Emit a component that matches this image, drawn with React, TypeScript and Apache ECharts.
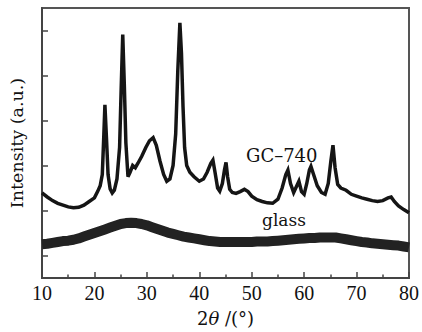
import React, { useEffect, useRef } from "react";
import * as echarts from "echarts";

const gcAngles = [10, 11, 12, 13, 14, 15, 16, 17, 18, 19, 20, 20.6, 21.1, 21.5, 21.8, 22.0, 22.3, 22.6, 23.0, 23.4, 23.8, 24.3, 24.8, 25.1, 25.4, 25.7, 26.0, 26.4, 26.8, 27.3, 27.8, 28.3, 29.0, 29.8, 30.5, 31.2, 31.8, 32.5, 33.2, 33.8, 34.4, 35.0, 35.5, 35.9, 36.3, 36.6, 36.9, 37.2, 37.6, 38.2, 39.0, 40.0, 40.8, 41.5, 42.2, 42.6, 43.0, 43.5, 43.9, 44.4, 44.8, 45.1, 45.4, 45.8, 46.3, 47.0, 47.8, 48.6, 49.3, 50.0, 51.0, 52.0, 53.0, 54.0, 55.0, 55.8, 56.5, 56.9, 57.4, 58.0, 58.6, 59.0, 59.5, 60.0, 60.5, 61.0, 61.3, 61.8, 62.5, 63.3, 64.0, 64.6, 65.1, 65.5, 65.9, 66.4, 67.0, 68.0, 69.0, 70.0, 71.0, 72.0, 73.0, 74.0, 75.0, 76.0, 76.6, 77.2, 78.0, 79.0, 80.0];
const gcIntensity = [1.89, 1.80, 1.72, 1.66, 1.62, 1.58, 1.56, 1.57, 1.62, 1.70, 1.78, 1.92, 2.05, 2.3, 3.2, 3.85, 3.1, 2.3, 1.98, 1.89, 1.95, 2.2, 2.9, 4.2, 5.41, 4.3, 3.0, 2.25, 2.35, 2.5, 2.45, 2.55, 2.7, 2.9, 3.05, 3.12, 2.95, 2.6, 2.3, 2.15, 2.2, 2.5, 3.2, 4.6, 5.67, 5.0, 3.8, 2.9, 2.5, 2.35, 2.25, 2.15, 2.2, 2.35, 2.55, 2.62, 2.35, 2.0, 1.93, 2.1, 2.4, 2.57, 2.25, 1.97, 1.9, 1.88, 1.92, 1.97, 1.92, 1.82, 1.74, 1.70, 1.67, 1.66, 1.75, 2.0, 2.3, 2.4, 2.1, 1.9, 2.05, 2.15, 1.92, 1.86, 2.1, 2.4, 2.48, 2.3, 2.05, 1.9, 1.86, 2.1, 2.6, 2.95, 2.45, 2.08, 2.0, 1.95, 1.86, 1.82, 1.78, 1.75, 1.72, 1.70, 1.72, 1.78, 1.8, 1.7, 1.6, 1.52, 1.45];

const glassAngles = [10, 11, 12, 13, 14, 15, 16, 17, 18, 19, 20, 21, 22, 23, 24, 25, 26, 27, 28, 29, 30, 31, 32, 33, 34, 35, 36, 37, 38, 39, 40, 41, 42, 43, 44, 45, 46, 47, 48, 49, 50, 51, 52, 53, 54, 55, 56, 57, 58, 59, 60, 61, 62, 63, 64, 65, 66, 67, 68, 69, 70, 71, 72, 73, 74, 75, 76, 77, 78, 79, 80];
const glassIntensity = [0.75, 0.76, 0.78, 0.8, 0.82, 0.83, 0.85, 0.88, 0.92, 0.96, 1.0, 1.04, 1.08, 1.12, 1.16, 1.2, 1.22, 1.23, 1.22, 1.2, 1.17, 1.13, 1.09, 1.05, 1.01, 0.98, 0.95, 0.92, 0.9, 0.88, 0.86, 0.84, 0.82, 0.81, 0.8, 0.8, 0.8, 0.8, 0.8, 0.8, 0.8, 0.81, 0.81, 0.81, 0.82, 0.83, 0.84, 0.85, 0.86, 0.87, 0.88, 0.89, 0.89, 0.9, 0.9, 0.9, 0.9, 0.88, 0.86, 0.84, 0.82, 0.8, 0.79, 0.77, 0.76, 0.75, 0.74, 0.73, 0.72, 0.7, 0.68];

const xTicks = [10, 20, 30, 40, 50, 60, 70, 80];
const yTickValues = [0.5, 1.5, 2.5, 3.5, 4.5, 5.5];
const seriesLabels = ["GC\u2013740", "glass"];

export default function App() {
  const ref = useRef<HTMLDivElement>(null);
  useEffect(() => {
    if (!ref.current) return;
    const chart = echarts.init(ref.current, null, { renderer: "svg" });
    const axisColor = "#444";
    chart.setOption({
      animation: false,
      backgroundColor: "#fff",
      grid: {
        left: 42,
        right: 9,
        top: 8,
        bottom: 51,
        show: true,
        borderColor: "#555",
        borderWidth: 2,
        backgroundColor: "transparent",
      },
      xAxis: {
        type: "value",
        min: xTicks[0],
        max: xTicks[xTicks.length - 1],
        interval: 10,
        name: "2{i|\u03b8} /(\u00b0)",
        nameLocation: "middle",
        nameGap: 31,
        nameTextStyle: {
          fontFamily: "DejaVu Serif",
          fontSize: 18,
          color: "#111",
          rich: {
            i: { fontFamily: "DejaVu Serif", fontSize: 18, fontStyle: "italic", color: "#111" },
          },
        },
        axisLine: { lineStyle: { color: axisColor, width: 2 } },
        axisTick: { inside: true, length: 6, lineStyle: { color: axisColor, width: 1.5 } },
        minorTick: { show: true, splitNumber: 2, length: 3.5, lineStyle: { color: axisColor, width: 1.5 } },
        splitLine: { show: false },
        minorSplitLine: { show: false },
        axisLabel: { fontFamily: "Liberation Serif", fontSize: 20, color: "#111", margin: 5 },
      },
      yAxis: {
        type: "value",
        min: 0,
        max: 6,
        name: "Intensity (a.u.)",
        nameLocation: "middle",
        nameGap: 16,
        nameTextStyle: { fontFamily: "DejaVu Serif", fontSize: 17.5, color: "#111" },
        axisLine: { show: true, lineStyle: { color: axisColor, width: 2 } },
        axisTick: {
          show: true,
          inside: true,
          length: 6,
          customValues: yTickValues,
          lineStyle: { color: axisColor, width: 1.5 },
        },
        axisLabel: { show: false },
        splitLine: { show: false },
      },
      graphic: [
        {
          type: "text",
          left: 246,
          top: 146,
          style: { text: seriesLabels[0], font: "18px 'DejaVu Serif'", fill: "#111" },
        },
        {
          type: "text",
          left: 262,
          top: 211,
          style: { text: seriesLabels[1], font: "17px 'DejaVu Serif'", fill: "#111" },
        },
      ],
      series: [
        {
          name: seriesLabels[0],
          type: "line",
          showSymbol: false,
          data: gcAngles.map((a, i) => [a, gcIntensity[i]]),
          lineStyle: { color: "#151515", width: 3.5, join: "miter" },
        },
        {
          name: seriesLabels[1],
          type: "line",
          showSymbol: false,
          data: glassAngles.map((a, i) => [a, glassIntensity[i]]),
          lineStyle: { color: "#222", width: 10 },
        },
      ],
    });
    return () => chart.dispose();
  }, []);
  return (
    <div style={{ position: "absolute", left: 0, top: 0 }}>
      <div ref={ref} style={{ width: 422, height: 332 }} />
    </div>
  );
}
